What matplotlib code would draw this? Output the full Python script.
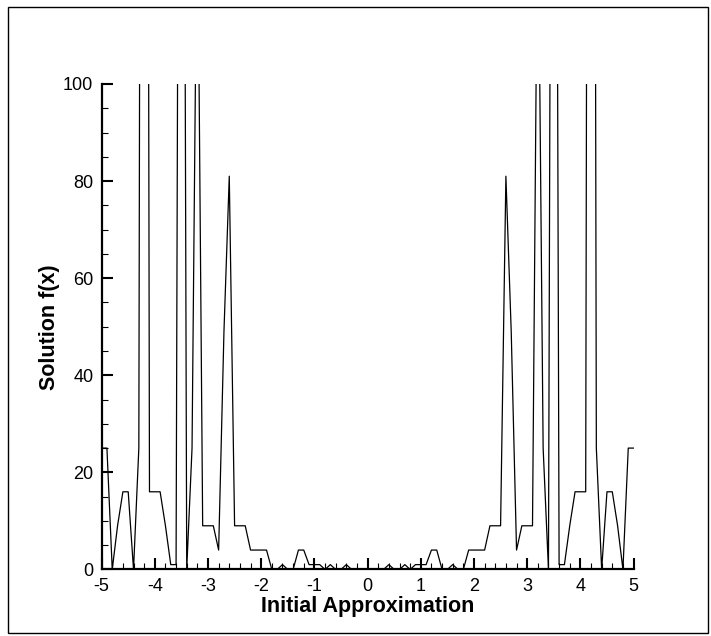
import numpy as np
import matplotlib
matplotlib.use("Agg")
import matplotlib.pyplot as plt
from matplotlib.ticker import MultipleLocator
from matplotlib.patches import Rectangle

plt.rcParams['font.family'] = ['Liberation Sans', 'DejaVu Sans']
plt.rcParams['axes.unicode_minus'] = False

# начальные приближения (шаг 0.1)
x0 = [-5.0, -4.9, -4.8, -4.7, -4.6, -4.5, -4.4, -4.3, -4.2, -4.1,
      -4.0, -3.9, -3.8, -3.7, -3.6, -3.5, -3.4, -3.3, -3.2, -3.1,
      -3.0, -2.9, -2.8, -2.7, -2.6, -2.5, -2.4, -2.3, -2.2, -2.1,
      -2.0, -1.9, -1.8, -1.7, -1.6, -1.5, -1.4, -1.3, -1.2, -1.1,
      -1.0, -0.9, -0.8, -0.7, -0.6, -0.5, -0.4, -0.3, -0.2, -0.1,
      0.0, 0.1, 0.2, 0.3, 0.4, 0.5, 0.6, 0.7, 0.8, 0.9,
      1.0, 1.1, 1.2, 1.3, 1.4, 1.5, 1.6, 1.7, 1.8, 1.9,
      2.0, 2.1, 2.2, 2.3, 2.4, 2.5, 2.6, 2.7, 2.8, 2.9,
      3.0, 3.1, 3.2, 3.3, 3.4, 3.5, 3.6, 3.7, 3.8, 3.9,
      4.0, 4.1, 4.2, 4.3, 4.4, 4.5, 4.6, 4.7, 4.8, 4.9, 5.0]

# значения решения f(x) (выше 100 обрезаются осью)
fx = [25, 25, 0, 9, 16, 16, 0, 25, 576, 16,
      16, 16, 9, 1, 1, 361, 0, 25, 144, 9,
      9, 9, 4, 49, 81, 9, 9, 9, 4, 4,
      4, 4, 0, 0, 1, 0, 0, 4, 4, 1,
      1, 1, 0, 1, 0, 0, 1, 0, 0, 0,
      0, 0, 0, 0, 1, 0, 0, 1, 0, 1,
      1, 1, 4, 4, 0, 0, 1, 0, 0, 4,
      4, 4, 4, 9, 9, 9, 81, 49, 4, 9,
      9, 9, 144, 25, 0, 361, 1, 1, 9, 16,
      16, 16, 576, 25, 0, 16, 16, 9, 0, 25, 25]

fig = plt.figure(figsize=(7.11, 6.36), dpi=100)
ax = fig.add_axes([0.1429, 0.1046, 0.7482, 0.7634])

ax.plot(x0, fx, color='black', linewidth=0.9)

ax.set_xlim(-5, 5)
ax.set_ylim(0, 100)

ax.xaxis.set_major_locator(MultipleLocator(1))
ax.xaxis.set_minor_locator(MultipleLocator(0.2))
ax.yaxis.set_major_locator(MultipleLocator(20))
ax.yaxis.set_minor_locator(MultipleLocator(5))

ax.spines['top'].set_visible(False)
ax.spines['right'].set_visible(False)
ax.spines['left'].set_linewidth(1.6)
ax.spines['bottom'].set_linewidth(1.6)

ax.tick_params(which='major', direction='in', length=8, width=1.5,
               labelsize=13, pad=6)
ax.tick_params(which='minor', direction='in', length=4.5, width=0.8)

ax.set_xlabel("Initial Approximation", fontsize=15.5, fontweight='bold', labelpad=1)
ax.set_ylabel("Solution f(x)", fontsize=15.5, fontweight='bold', labelpad=2)

# рамка вокруг всего рисунка
fig.patches.append(Rectangle((8 / 711, 3 / 636), 700 / 711, 626 / 636,
                             transform=fig.transFigure, fill=False,
                             edgecolor='black', linewidth=1))

fig.savefig("out.png", dpi=100)
